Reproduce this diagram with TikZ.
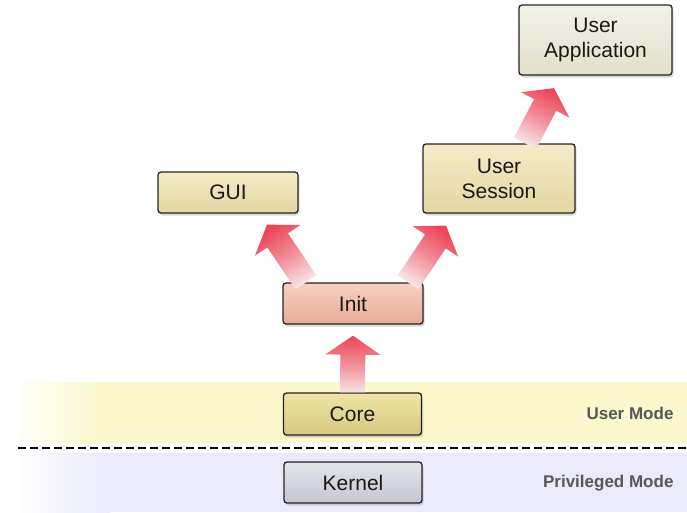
\documentclass[tikz,border=0pt]{standalone}
\usepackage{fontspec}
\setmainfont{Liberation Sans}
\usetikzlibrary{calc,shadows}
\definecolor{boxline}{RGB}{35,35,35}
\definecolor{boxtext}{RGB}{25,25,25}
\definecolor{tanT}{RGB}{243,236,200}
\definecolor{tanB}{RGB}{228,214,162}
\definecolor{coreT}{RGB}{238,229,165}
\definecolor{coreB}{RGB}{216,200,128}
\definecolor{appT}{RGB}{242,242,230}
\definecolor{appB}{RGB}{226,224,202}
\definecolor{initT}{RGB}{246,208,192}
\definecolor{initB}{RGB}{232,172,150}
\definecolor{kerT}{RGB}{228,228,235}
\definecolor{kerB}{RGB}{198,198,210}
\definecolor{yband}{RGB}{250,248,204}
\definecolor{lband}{RGB}{234,234,250}
\definecolor{arrHead}{RGB}{236,70,88}
\definecolor{arrTail}{RGB}{248,228,230}
\definecolor{modetext}{RGB}{88,88,88}
\newcommand\blockarrow[3]{%
  \coordinate (neck) at ($(#2)!19pt!(#1)$);
  \shade[arrowfill, shading angle=#3]
    ($(#1)!12.5pt!90:(#2)$) -- ($(neck)!12.5pt!90:(#2)$) -- ($(neck)!27.5pt!90:(#2)$)
    -- (#2) -- ($(neck)!27.5pt!-90:(#2)$) -- ($(neck)!12.5pt!-90:(#2)$)
    -- ($(#1)!12.5pt!-90:(#2)$) -- cycle;}
\begin{document}
\begin{tikzpicture}[x=1pt,y=-1pt,
  box/.style={draw=boxline, line width=1.3pt, rounded corners=3pt, align=center,
    font=\fontsize{21}{25}\selectfont, text=boxtext, inner sep=0pt,
    drop shadow={shadow xshift=1.5pt, shadow yshift=-2.5pt, opacity=0.3}},
  tanbox/.style={box, top color=tanT, bottom color=tanB},
  arrowfill/.style={top color=arrHead, bottom color=arrTail, middle color=arrHead!55!arrTail},
  modelabel/.style={anchor=east, font=\fontsize{17}{20}\selectfont\bfseries, text=modetext}]
\useasboundingbox (0,0) rectangle (687,512);
% background bands
\fill[yband] (100,382) rectangle (687,443);
\shade[left color=white, right color=yband] (10,382) rectangle (100,443);
\fill[lband] (110,453) rectangle (687,512);
\shade[left color=white, right color=lband] (10,453) rectangle (110,512);
\draw[line width=2.5pt, dash pattern=on 8pt off 4pt] (18,448) -- (687,448);
\node[modelabel] (um) at (677,413) {User Mode};
\node[modelabel] (pm) at (677,483) {Privileged Mode};
% nodes
\node[box, top color=appT, bottom color=appB, minimum width=153pt, minimum height=70pt] (app) at (595.5,40) {User\\Application};
\node[tanbox, minimum width=140pt, minimum height=41pt] (gui) at (228,192.5) {GUI};
\node[tanbox, minimum width=152pt, minimum height=69pt] (session) at (499,178.5) {User\\Session};
\node[box, top color=initT, bottom color=initB, minimum width=140pt, minimum height=41pt] (init) at (353,303.5) {Init};
\node[box, top color=coreT, bottom color=coreB, minimum width=138pt, minimum height=42pt] (core) at (352.5,414) {Core};
\node[box, top color=kerT, bottom color=kerB, minimum width=138pt, minimum height=41pt] (kernel) at (353,482.5) {Kernel};
% arrows
\coordinate (a1t) at (core.north);
\coordinate (a1h) at ($(init.south)+(0,11)$);
\coordinate (a2t) at ($(init.north)+(-47,0)$);
\coordinate (a2h) at ($(gui.south)+(39,11)$);
\coordinate (a3t) at ($(init.north)+(55,0)$);
\coordinate (a3h) at ($(session.south)+(-53,12)$);
\coordinate (a4t) at ($(session.north)+(26,0)$);
\coordinate (a4h) at ($(app.south)+(-41.5,12.5)$);
\blockarrow{a1t}{a1h}{0}
\blockarrow{a2t}{a2h}{32.8}
\blockarrow{a3t}{a3h}{-33.2}
\blockarrow{a4t}{a4h}{-27.2}
\end{tikzpicture}
\end{document}
